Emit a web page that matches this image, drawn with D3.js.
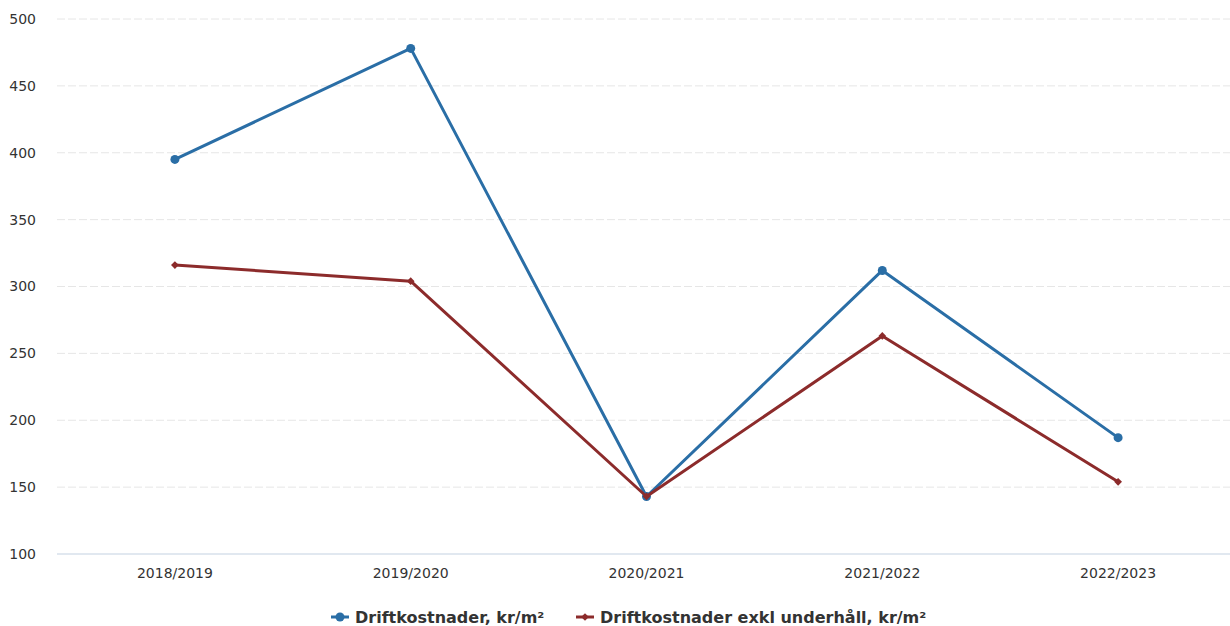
<!DOCTYPE html>
<html><head><meta charset="utf-8">
<script src="https://cdn.jsdelivr.net/npm/d3@7"></script>
<style>
html,body{margin:0;padding:0;background:#fff;}
svg{display:block;font-family:"DejaVu Sans",sans-serif;}
</style></head>
<body>
<svg id="c" width="1230" height="626"></svg>
<script>
const categories = ["2018/2019","2019/2020","2020/2021","2021/2022","2022/2023"];
const driftkostnader = [395, 478, 143, 312, 187];
const exklUnderhall = [316, 304, 143, 263, 154];
const yTicks = [100,150,200,250,300,350,400,450,500];
const seriesNames = ["Driftkostnader, kr/m²","Driftkostnader exkl underhåll, kr/m²"];
const seriesColors = ["#2a6ea6","#8c2b2b"];

const svg = d3.select("#c");
const pLeft = 57, pRight = 1236, pTop = 19, pBottom = 554;
const x = d3.scaleBand().domain(categories).range([pLeft,pRight]);
const y = d3.scaleLinear().domain([100,500]).range([pBottom,pTop]);

// gridlines
svg.append("g").selectAll("line").data(yTicks.filter(d=>d>100)).join("line")
  .attr("x1",pLeft).attr("x2",1230).attr("y1",d=>y(d)).attr("y2",d=>y(d))
  .attr("stroke","#e6e6e6").attr("stroke-width",1).attr("stroke-dasharray","8,3");
// baseline
svg.append("line").attr("x1",pLeft).attr("x2",1230).attr("y1",y(100)).attr("y2",y(100))
  .attr("stroke","#c4d2e2").attr("stroke-width",1.2);

// y labels
const yAxis = d3.axisLeft(y).tickValues(yTicks).tickSize(0).tickPadding(0);
const yg = svg.append("g").attr("transform","translate(36,0)").call(yAxis);
yg.select(".domain").remove();
yg.selectAll("text").attr("font-size",14).attr("fill","#333").attr("font-family","DejaVu Sans, sans-serif");

// x labels
const xAxis = d3.axisBottom(x).tickSize(0).tickPadding(0);
const xg = svg.append("g").attr("transform",`translate(0,${pBottom+14})`).call(xAxis);
xg.select(".domain").remove();
xg.selectAll("text").attr("font-size",14).attr("fill","#333").attr("font-family","DejaVu Sans, sans-serif");

const cx = d => x(d) + x.bandwidth()/2;
const line = d3.line().x((d,i)=>cx(categories[i])).y(d=>y(d));

[driftkostnader, exklUnderhall].forEach((vals,si)=>{
  svg.append("path").attr("d",line(vals)).attr("fill","none")
    .attr("stroke",seriesColors[si]).attr("stroke-width",3).attr("stroke-linejoin","round");
  const g = svg.append("g");
  if(si===0){
    g.selectAll("circle").data(vals).join("circle")
      .attr("cx",(d,i)=>cx(categories[i])).attr("cy",d=>y(d)).attr("r",4.5)
      .attr("fill",seriesColors[si]);
  } else {
    g.selectAll("path").data(vals).join("path")
      .attr("d",d3.symbol(d3.symbolSquare,30))
      .attr("transform",(d,i)=>`translate(${cx(categories[i])},${y(d)}) rotate(45)`)
      .attr("fill",seriesColors[si]);
  }
});

// legend
const legend = svg.append("g").attr("transform","translate(0,617)");
const lx = [331, 576];
seriesNames.forEach((n,i)=>{
  const g = legend.append("g").attr("transform",`translate(${lx[i]},0)`);
  g.append("line").attr("x1",0).attr("x2",18).attr("y1",0).attr("y2",0)
    .attr("stroke",seriesColors[i]).attr("stroke-width",3);
  if(i===0) g.append("circle").attr("cx",9).attr("cy",0).attr("r",4.5).attr("fill",seriesColors[i]);
  else g.append("path").attr("d",d3.symbol(d3.symbolSquare,30)).attr("transform","translate(9,0) rotate(45)").attr("fill",seriesColors[i]);
  g.append("text").attr("x",24).attr("y",6).attr("font-size",16).attr("font-weight","bold")
    .attr("fill","#333").text(n);
});
</script>
</body></html>
